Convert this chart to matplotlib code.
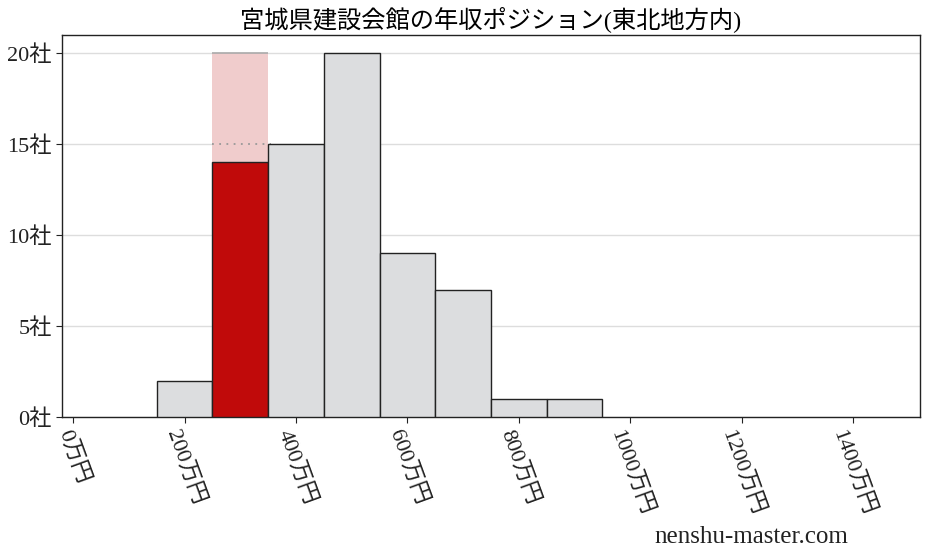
import matplotlib
matplotlib.use("Agg")
import matplotlib.pyplot as plt

# data
bin_centers = [200, 300, 400, 500, 600, 700, 800, 900]
counts = [2, 14, 15, 20, 9, 7, 1, 1]
highlight_center = 300
highlight_count = 14
highlight_max = 20
prev_level = 15
xticks = [0, 200, 400, 600, 800, 1000, 1200, 1400]
xticklabels = [f"{v}万円" for v in xticks]
yticks = [0, 5, 10, 15, 20]
yticklabels = [f"{v}社" for v in yticks]
title = "宮城県建設会館の年収ポジション(東北地方内)"
watermark = "nenshu-master.com"

fam = ['Liberation Serif', 'Noto Sans CJK JP', 'DejaVu Sans']
plt.rcParams['font.family'] = fam

fig = plt.figure(figsize=(9.28, 5.57), dpi=100)
ax = fig.add_axes([62/928, 1-417/557, (920-62)/928, (417-35)/557])

width = 100
colors = ['#c00a0a' if c == highlight_center else '#dcdddf' for c in bin_centers]
# pink background bar for highlighted bin
ax.bar([highlight_center], [highlight_max], width=width, color='#f0cccc', zorder=1, linewidth=0)
ax.hlines(highlight_max, highlight_center - width/2, highlight_center + width/2,
          colors='#aaaaaa', linewidth=1.2, zorder=2)
ax.hlines(prev_level, highlight_center - width/2, highlight_center + width/2 + 5,
          colors='#999999', linestyles=(0, (1, 3)), linewidth=1.3, zorder=2)
ax.bar(bin_centers, counts, width=width, color=colors, edgecolor='#222222', linewidth=1.0, zorder=3)

ax.set_xlim(-20, 1520)
ax.set_ylim(0, 21)
ax.set_yticks(yticks)
ax.set_yticklabels(yticklabels, fontsize=16)
ax.set_xticks(xticks)
ax.set_xticklabels(xticklabels, fontsize=16, rotation=-70, ha='center', va='top')
ax.grid(axis='y', color='#dddddd', linewidth=1, zorder=0)
ax.set_axisbelow(True)
for s in ax.spines.values():
    s.set_color('#222222')
    s.set_linewidth(1)
ax.tick_params(axis='both', colors='#222222', labelcolor='#222222', length=4)

ax.set_title(title, fontsize=17.5, pad=6)
fig.text(751/928, 1-537/557, watermark, fontsize=18, ha='center', va='center', color='#222222')

fig.savefig("out.png", dpi=100)
